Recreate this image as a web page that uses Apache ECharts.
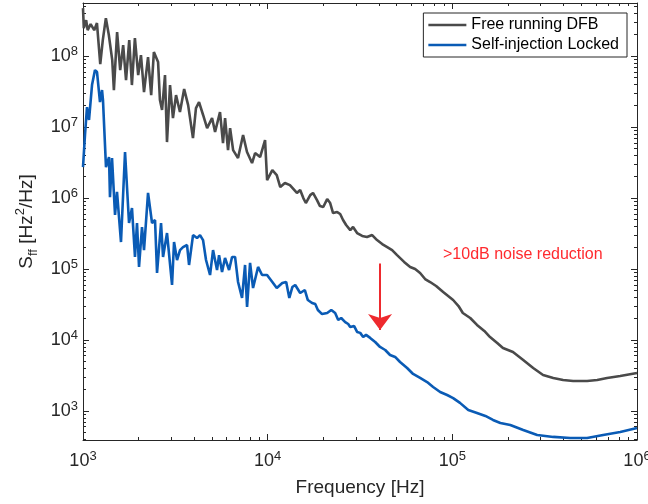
<!DOCTYPE html>
<html>
<head>
<meta charset="utf-8">
<script src="https://cdn.jsdelivr.net/npm/echarts@6/dist/echarts.min.js"></script>
<style>
  html, body { margin: 0; padding: 0; background: #fff; }
  #chart { width: 648px; height: 504px; }
</style>
</head>
<body>
<div id="chart"></div>
<script>
// Free running DFB
const freeFreq = [1000,1010,1040,1060,1100,1150,1190,1240,1280,1330,
  1380,1440,1470,1530,1590,1650,1710,1780,1840,1910,
  1990,2060,2140,2250,2340,2420,2550,2610,2680,2780,
  2850,2960,3070,3190,3350,3530,3710,3940,4090,4250,
  4470,4700,5000,5190,5520,5730,5880,6100,6260,6500,
  6910,7360,7730,8230,8550,9100,9680,9930,1.06e4,1.12e4,
  1.17e4,1.24e4,1.32e4,1.44e4,1.50e4,1.56e4,1.61e4,1.70e4,1.76e4,1.85e4,
  1.92e4,2.00e4,2.10e4,2.18e4,2.26e4,2.38e4,2.47e4,2.56e4,2.66e4,2.80e4,
  2.90e4,3.05e4,3.25e4,3.45e4,3.68e4,3.91e4,4.17e4,4.44e4,4.72e4,5.02e4,
  5.48e4,5.91e4,6.29e4,6.69e4,7.12e4,7.58e4,8.17e4,8.92e4,9.49e4,1.01e5,
  1.08e5,1.14e5,1.25e5,1.36e5,1.49e5,1.60e5,1.75e5,1.88e5,2.13e5,2.42e5,
  2.74e5,3.10e5,3.52e5,3.98e5,4.51e5,5.37e5,6.09e5,6.89e5,8.11e5,1.0e6];
const freePsd = [4.74e8,2.48e8,3.21e8,2.32e8,2.82e8,2.32e8,2.92e8,7.71e7,1.68e8,3.43e8,
  1.98e8,8.79e7,3.32e7,2.18e8,6.35e7,1.43e8,4.59e7,1.68e8,3.91e7,1.79e8,
  5.40e7,1.03e8,3.11e7,9.68e7,2.82e7,1.14e8,8.24e7,2.40e7,1.74e7,5.40e7,
  6.15e6,3.91e7,1.34e7,2.82e7,1.63e7,3.43e7,2.04e7,7.00e6,1.85e7,2.25e7,
  1.48e7,9.68e6,1.34e7,8.51e6,1.63e7,5.96e6,1.34e7,4.74e6,9.68e6,4.74e6,
  3.66e6,7.71e6,4.45e6,3.11e6,4.30e6,3.78e6,6.56e6,1.79e6,2.48e6,2.11e6,
  1.43e6,1.63e6,1.52e6,1.18e6,1.30e6,1.0e6,8.51e5,1.10e6,1.18e6,9.37e5,
  7.71e5,7.47e5,9.68e5,8.51e5,6.15e5,6.35e5,5.96e5,4.90e5,4.17e5,3.54e5,
  3.91e5,3.21e5,2.92e5,2.82e5,3.01e5,2.56e5,2.25e5,2.04e5,1.85e5,1.57e5,
  1.26e5,1.07e5,1.0e5,8.79e4,7.23e4,6.56e4,5.77e4,4.74e4,4.17e4,3.66e4,
  3.01e4,2.40e4,2.04e4,1.63e4,1.34e4,1.10e4,9.07e3,7.71e3,6.78e3,5.22e3,
  4.03e3,3.21e3,2.92e3,2.73e3,2.64e3,2.64e3,2.73e3,2.92e3,3.11e3,3.43e3];

// Self-injection locked
const lockFreq = [1000,1025,1051,1078,1119,1161,1191,1236,1268,1283,
  1332,1383,1400,1436,1491,1528,1606,1689,1775,1842,
  1912,1961,2011,2087,2140,2250,2365,2455,2517,2646,
  2713,2851,3035,3112,3230,3353,3481,3660,3752,3943,
  4145,4302,4467,4637,4875,5061,5319,5454,5662,5876,
  6180,6415,6660,6913,7265,7543,7734,8029,8334,8872,
  9326,9925,1.06e4,1.12e4,1.20e4,1.26e4,1.31e4,1.36e4,1.41e4,1.50e4,
  1.59e4,1.65e4,1.74e4,1.81e4,1.87e4,1.97e4,2.10e4,2.21e4,2.32e4,2.41e4,
  2.50e4,2.63e4,2.73e4,2.80e4,2.94e4,3.05e4,3.17e4,3.29e4,3.41e4,3.59e4,
  3.82e4,4.06e4,4.33e4,4.60e4,4.90e4,5.21e4,5.69e4,6.13e4,6.69e4,7.30e4,
  7.87e4,8.59e4,9.37e4,1.01e5,1.10e5,1.22e5,1.36e5,1.51e5,1.66e5,1.82e5,
  2.06e5,2.42e5,2.88e5,3.52e5,4.35e5,5.37e5,6.56e5,8.11e5,1.0e6];
const lockPsd = [2.73e6,7.71e6,1.91e7,1.26e7,3.91e7,6.35e7,5.96e7,2.25e7,3.32e7,2.40e7,
  2.73e6,3.78e6,1.03e6,3.66e6,5.77e5,1.22e6,2.40e5,4.45e6,4.45e5,7.23e5,
  1.48e5,4.45e5,1.07e5,3.91e5,1.85e5,1.18e6,4.45e5,4.90e5,8.79e4,4.45e5,
  1.48e5,3.21e5,5.96e4,2.40e5,1.34e5,1.85e5,2.04e5,2.18e5,1.14e5,3.01e5,
  2.73e5,3.01e5,2.56e5,1.34e5,8.23e4,1.85e5,9.68e4,1.57e5,9.07e4,1.43e5,
  9.68e4,1.48e5,1.48e5,6.56e4,3.91e4,1.14e5,2.92e4,1.22e5,5.40e4,1.07e5,
  8.23e4,8.23e4,6.56e4,5.40e4,6.35e4,6.56e4,3.91e4,5.57e4,5.96e4,4.59e4,
  5.06e4,3.66e4,3.32e4,3.21e4,2.65e4,2.32e4,2.40e4,2.65e4,2.40e4,1.91e4,
  2.04e4,1.79e4,1.68e4,1.52e4,1.57e4,1.30e4,1.26e4,1.10e4,1.18e4,1.07e4,
  9.37e3,7.97e3,7.23e3,6.15e3,5.77e3,4.90e3,4.03e3,3.32e3,2.92e3,2.56e3,
  2.18e3,1.85e3,1.68e3,1.52e3,1.30e3,1.03e3,9.37e2,8.51e2,7.47e2,6.78e2,
  6.35e2,5.40e2,4.59e2,4.31e2,4.17e2,4.17e2,4.59e2,5.06e2,5.77e2];

const seriesNames = ['Free running DFB', 'Self-injection Locked'];
const noteText = '>10dB noise reduction';
const noteAt = [8.9e4, 1.48e5];
const arrowFreq = 4.06e4;
const arrowFrom = 1.2e5;
const arrowTo = 1.38e4;

const F_MIN = 1e3, F_MAX = 1e6;
const S_MIN = 390, S_MAX = 5.6e8;

const AX = '#262626';
const FONT = 'Liberation Sans';

// minor tick positions in log10 space (2..9 in each decade)
function minorLogs(lo, hi) {
  const out = [];
  for (let d = Math.floor(lo); d <= Math.ceil(hi); d++) {
    for (let k = 2; k <= 9; k++) {
      const v = d + Math.log10(k);
      if (v > lo && v < hi) out.push(v);
    }
  }
  return out;
}
const xLo = Math.log10(F_MIN), xHi = Math.log10(F_MAX);
const yLo = Math.log10(S_MIN), yHi = Math.log10(S_MAX);

function powLabel(v) {
  const e = Math.log10(v);
  const r = Math.round(e);
  if (Math.abs(e - r) > 1e-4) return '';
  return '{b|10}{e|' + r + '}';
}
const powRich = {
  b: { fontFamily: FONT, fontSize: 18, color: AX, lineHeight: 22 },
  e: { fontFamily: FONT, fontSize: 13, color: AX, lineHeight: 13, verticalAlign: 'top' }
};

function majorAxis(pos, lo, hi, withLabels) {
  return {
    type: 'log', logBase: 10, min: lo, max: hi, position: pos,
    axisLine: { show: true, lineStyle: { color: AX, width: 1 } },
    axisTick: { show: true, inside: true, length: 6, lineStyle: { color: AX, width: 1 } },
    axisLabel: withLabels ? { show: true, formatter: powLabel, rich: powRich, margin: 9 } : { show: false },
    splitLine: { show: false }
  };
}
function minorAxis(pos, lo, hi) {
  return {
    type: 'value', min: lo, max: hi, position: pos,
    axisLine: { show: false },
    axisTick: { show: true, inside: true, length: 3, customValues: minorLogs(lo, hi), lineStyle: { color: AX, width: 1 } },
    axisLabel: { show: false },
    splitLine: { show: false }
  };
}

const chart = echarts.init(document.getElementById('chart'));

const xBottom = majorAxis('bottom', F_MIN, F_MAX, true);
xBottom.axisLabel.margin = 10;
xBottom.name = 'Frequency [Hz]';
xBottom.nameLocation = 'middle';
xBottom.nameGap = 38;
xBottom.nameTextStyle = { fontFamily: FONT, fontSize: 19, color: AX };

const yLeft = majorAxis('left', S_MIN, S_MAX, true);
yLeft.axisLabel.margin = 5;
yLeft.name = '{s|S}{sub|ff}{s| [Hz}{sup|2}{s|/Hz]}';
yLeft.nameLocation = 'middle';
yLeft.nameRotate = 90;
yLeft.nameGap = 43;
yLeft.nameTextStyle = {
  rich: {
    s: { fontFamily: FONT, fontSize: 19, color: AX, lineHeight: 26 },
    sub: { fontFamily: FONT, fontSize: 13, color: AX, lineHeight: 13, verticalAlign: 'bottom' },
    sup: { fontFamily: FONT, fontSize: 13, color: AX, lineHeight: 13, verticalAlign: 'top' }
  }
};

chart.setOption({
  animation: false,
  backgroundColor: '#fff',
  grid: { left: 83, right: 11, top: 3, bottom: 64, containLabel: false, outerBoundsMode: 'none' },
  legend: {
    data: seriesNames,
    orient: 'vertical',
    right: 21, top: 13,
    backgroundColor: '#fff',
    borderColor: AX, borderWidth: 1, borderRadius: 0,
    padding: [3, 8, 3, 5],
    itemGap: 2,
    itemWidth: 38, itemHeight: 2.5,
    icon: 'rect',
    textStyle: { fontFamily: FONT, fontSize: 16, lineHeight: 18, color: '#000' }
  },
  xAxis: [
    xBottom,
    minorAxis('bottom', xLo, xHi),
    majorAxis('top', F_MIN, F_MAX, false),
    minorAxis('top', xLo, xHi)
  ],
  yAxis: [
    yLeft,
    minorAxis('left', yLo, yHi),
    majorAxis('right', S_MIN, S_MAX, false),
    minorAxis('right', yLo, yHi)
  ],
  series: [
    {
      name: seriesNames[0], type: 'line', xAxisIndex: 0, yAxisIndex: 0,
      data: freeFreq.map((f, i) => [f, freePsd[i]]),
      showSymbol: false, symbol: 'none',
      color: '#4a4a4a',
      lineStyle: { color: '#4a4a4a', width: 2.6 },
      z: 3
    },
    {
      name: seriesNames[1], type: 'line', xAxisIndex: 0, yAxisIndex: 0,
      data: lockFreq.map((f, i) => [f, lockPsd[i]]),
      showSymbol: false, symbol: 'none',
      color: '#0a5bb5',
      lineStyle: { color: '#0a5bb5', width: 2.6 },
      z: 4,
      markLine: {
        silent: true,
        symbol: ['none', 'arrow'],
        symbolSize: [18, 16],
        label: { show: false },
        lineStyle: { color: '#ee2a2e', width: 2, type: 'solid' },
        data: [[{ coord: [arrowFreq, arrowFrom] }, { coord: [arrowFreq, arrowTo] }]]
      }
    }
  ]
});

const p = chart.convertToPixel({ xAxisIndex: 0, yAxisIndex: 0 }, noteAt);
chart.setOption({
  graphic: [{
    type: 'text', left: p[0], top: p[1] - 10,
    style: { text: noteText, fill: '#ff2a2e', fontFamily: FONT, fontSize: 16 }
  }]
});
</script>
</body>
</html>
